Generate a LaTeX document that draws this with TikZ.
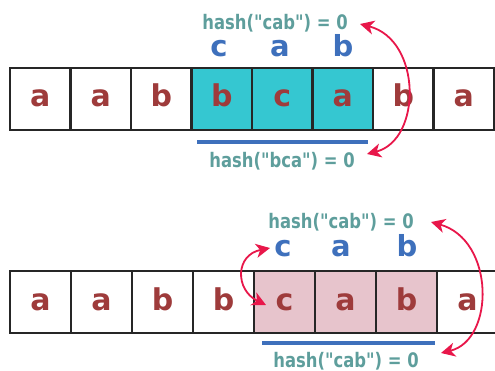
\documentclass[tikz,border=0pt]{standalone}
\usepackage{fontspec}
\setmainfont{DejaVu Sans}
\newfontfamily\hashfont{DejaVu Sans}[FakeStretch=0.82]
\usetikzlibrary{arrows.meta}
\definecolor{cellred}{HTML}{9E3B3B}
\definecolor{hashteal}{HTML}{5E9E9C}
\definecolor{winblue}{HTML}{3E70BC}
\definecolor{wincyan}{HTML}{35C7D1}
\definecolor{winpink}{HTML}{E7C4CC}
\definecolor{arrred}{HTML}{E8174A}
\tikzset{
  cellbox/.style={minimum height=62pt, text=cellred,
    font=\fontsize{30}{30}\selectfont\bfseries, text height=16pt, text depth=0pt, inner sep=0pt},
  cellline/.style={draw=black!85, line width=1.8pt},
  winlabel/.style={anchor=base, text=winblue, font=\fontsize{29}{29}\selectfont\bfseries},
  hashtext/.style={anchor=base, text=hashteal, font=\fontsize{20}{20}\hashfont\bfseries},
  winline/.style={winblue, line width=4pt},
  swaparrow/.style={arrred, line width=1.8pt, {Stealth[length=14pt,width=14pt,inset=4pt]}-{Stealth[length=14pt,width=14pt,inset=4pt]}}
}
\newcommand{\cell}[6]{ \node[cellbox, minimum width=#5pt, fill=#4] (#1) at ( #2 , #3 ) {#6};}
\newcommand{\hashof}[1]{hash(\char34 #1\char34) = 0}
\begin{document}
\begin{tikzpicture}[x=1pt, y=-1pt]
        \clip (0,0) rectangle (495,371);

        % row1
        \cell{a1}{40.25}{99}{white}{60.5}{a}
        \cell{a2}{100.75}{99}{white}{60.5}{a}
        \cell{a3}{161.25}{99}{white}{60.5}{b}
        \cell{a4}{221.75}{99}{wincyan}{60.5}{b}
        \cell{a5}{282.25}{99}{wincyan}{60.5}{c}
        \cell{a6}{342.75}{99}{wincyan}{60.5}{a}
        \cell{a7}{403.25}{99}{white}{60.5}{b}
        \cell{a8}{463.75}{99}{white}{60.5}{a}
        \foreach \n in {a1,a2,a3,a4,a5,a6,a7,a8}
          \draw[cellline] (\n.south west) rectangle (\n.north east);

        \node[winlabel] (ac) at (219,57) {c};
        \node[winlabel] (aa) at (280,57) {a};
        \node[winlabel] (ab) at (343,57) {b};

        \node[hashtext] (ahashup) at (275,30) {\hashof{cab}};
        \node[hashtext] (ahashdown) at (282,168) {\hashof{bca}};
        \draw[winline] (197,142) -- (368,142);

        \coordinate (aup) at (360,24);
        \coordinate (adown) at (367,154);
        \draw[swaparrow] (aup) .. controls (422,40) and (422,140) .. (adown);

        % row2
        \cell{b1}{40.5}{302}{white}{61}{a}
        \cell{b2}{101.5}{302}{white}{61}{a}
        \cell{b3}{162.5}{302}{white}{61}{b}
        \cell{b4}{223.5}{302}{white}{61}{b}
        \cell{b5}{284.5}{302}{winpink}{61}{c}
        \cell{b6}{345.5}{302}{winpink}{61}{a}
        \cell{b7}{406.5}{302}{winpink}{61}{b}
        \cell{b8}{467.5}{302}{white}{61}{a}
        \foreach \n in {b1,b2,b3,b4,b5,b6,b7,b8}
          \draw[cellline] (\n.south west) rectangle (\n.north east);

        \node[winlabel] (bc) at (283,257) {c};
        \node[winlabel] (ba) at (341,257) {a};
        \node[winlabel] (bb) at (407,257) {b};

        \node[hashtext] (bhashup) at (341,229) {\hashof{cab}};
        \node[hashtext] (bhashdown) at (346,367) {\hashof{cab}};
        \draw[winline] (262,343) -- (435,343);

        \coordinate (bup) at (431,222);
        \coordinate (bdown) at (441,353);
        \draw[swaparrow] (bup) .. controls (495,240) and (495,340) .. (bdown);

        \coordinate (cup) at (270,248);
        \coordinate (cdown) at (266,305);
        \draw[swaparrow] (cup) .. controls (235,255) and (235,290) .. (cdown);

    \end{tikzpicture}
\end{document}
